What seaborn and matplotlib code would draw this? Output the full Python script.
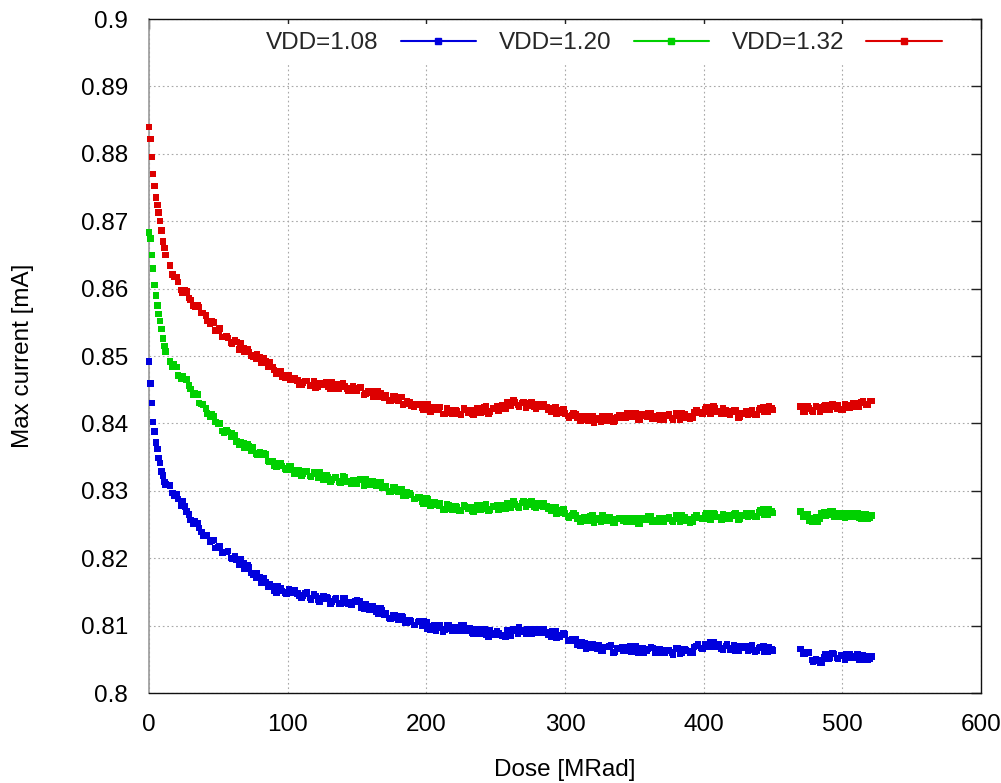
import numpy as np
import pandas as pd
import matplotlib
matplotlib.use("Agg")
import matplotlib.pyplot as plt
from matplotlib.lines import Line2D
import seaborn as sns

# ---------------- data ----------------
# two interleaved sampling grids of the dose (MRad)
dose_early = list(range(0, 13))            # 0..12
dose_main = list(range(15, 451, 3))        # 15..450
dose_late = list(range(470, 522, 3))       # 470..521
doses_a = dose_early + dose_main + dose_late
doses_b = list(range(17, 450, 3)) + list(range(472, 521, 3))

series_names = ["VDD=1.08", "VDD=1.20", "VDD=1.32"]
series_colors = ["#0000dd", "#00d000", "#dd0000"]

vdd108_a = [
    0.8492, 0.8459, 0.8430, 0.8402, 0.8388, 0.8372, 0.8362, 0.8349, 0.8341, 0.8329, 0.8323, 0.8313, 0.8309,
    0.8308, 0.8292, 0.8288, 0.8284, 0.8269, 0.8257, 0.8255, 0.8245, 0.8234, 0.8234,
    0.8226, 0.8215, 0.8218, 0.8209, 0.8211, 0.8199, 0.8198, 0.8198, 0.8185, 0.8186,
    0.8176, 0.8177, 0.8163, 0.8164, 0.8162, 0.8152, 0.8158, 0.8151, 0.8147, 0.8152,
    0.8152, 0.8144, 0.8145, 0.8149, 0.8139, 0.8144, 0.8136, 0.8143, 0.8140, 0.8136,
    0.8140, 0.8132, 0.8141, 0.8133, 0.8135, 0.8137, 0.8126, 0.8131, 0.8124, 0.8126,
    0.8118, 0.8123, 0.8118, 0.8110, 0.8116, 0.8108, 0.8113, 0.8104, 0.8106, 0.8101,
    0.8106, 0.8106, 0.8096, 0.8099, 0.8092, 0.8100, 0.8094, 0.8100, 0.8092, 0.8096,
    0.8100, 0.8092, 0.8096, 0.8088, 0.8095, 0.8091, 0.8086, 0.8093, 0.8086, 0.8089,
    0.8085, 0.8093, 0.8085, 0.8093, 0.8097, 0.8091, 0.8094, 0.8088, 0.8094, 0.8089,
    0.8094, 0.8087, 0.8091, 0.8082, 0.8086, 0.8087, 0.8077, 0.8078, 0.8072, 0.8076,
    0.8066, 0.8072, 0.8067, 0.8071, 0.8063, 0.8068, 0.8071, 0.8061, 0.8065, 0.8063,
    0.8068, 0.8061, 0.8069, 0.8063, 0.8059, 0.8065, 0.8067, 0.8060, 0.8064, 0.8059,
    0.8064, 0.8057, 0.8066, 0.8060, 0.8063, 0.8059, 0.8068, 0.8072, 0.8066, 0.8070,
    0.8075, 0.8068, 0.8072, 0.8064, 0.8073, 0.8066, 0.8063, 0.8070, 0.8067, 0.8063,
    0.8071, 0.8063, 0.8068, 0.8061, 0.8068, 0.8063,
    0.8065, 0.8058, 0.8060, 0.8047, 0.8048, 0.8045, 0.8057, 0.8052, 0.8058, 0.8051,
    0.8056, 0.8058, 0.8052, 0.8055, 0.8049, 0.8056, 0.8050, 0.8054,
]
vdd108_b = [
    0.8297, 0.8295, 0.8278, 0.8277, 0.8265, 0.8251, 0.8252, 0.8239, 0.8234, 0.8224,
    0.8227, 0.8216, 0.8208, 0.8209, 0.8200, 0.8203, 0.8190, 0.8192, 0.8189, 0.8178,
    0.8171, 0.8172, 0.8170, 0.8158, 0.8158, 0.8149, 0.8155, 0.8149, 0.8154, 0.8149,
    0.8148, 0.8142, 0.8148, 0.8141, 0.8147, 0.8138, 0.8140, 0.8142, 0.8133, 0.8139,
    0.8133, 0.8141, 0.8134, 0.8131, 0.8136, 0.8136, 0.8125, 0.8129, 0.8129, 0.8121,
    0.8125, 0.8116, 0.8111, 0.8116, 0.8111, 0.8114, 0.8104, 0.8108, 0.8101, 0.8105,
    0.8100, 0.8105, 0.8094, 0.8100, 0.8097, 0.8091, 0.8100, 0.8095, 0.8098, 0.8092,
    0.8100, 0.8093, 0.8089, 0.8094, 0.8088, 0.8094, 0.8084, 0.8089, 0.8091, 0.8086,
    0.8084, 0.8091, 0.8095, 0.8088, 0.8093, 0.8088, 0.8095, 0.8089, 0.8094, 0.8090,
    0.8090, 0.8084, 0.8091, 0.8084, 0.8088, 0.8078, 0.8079, 0.8080, 0.8070, 0.8074,
    0.8067, 0.8073, 0.8066, 0.8062, 0.8068, 0.8070, 0.8060, 0.8066, 0.8068, 0.8063,
    0.8069, 0.8062, 0.8059, 0.8067, 0.8063, 0.8068, 0.8060, 0.8065, 0.8059, 0.8063,
    0.8060, 0.8067, 0.8058, 0.8065, 0.8062, 0.8059, 0.8070, 0.8067, 0.8072, 0.8068,
    0.8076, 0.8069, 0.8066, 0.8070, 0.8064, 0.8071, 0.8062, 0.8067, 0.8069, 0.8064,
    0.8061, 0.8067, 0.8070, 0.8061, 0.8065,
    0.8058, 0.8061, 0.8049, 0.8050, 0.8045, 0.8053, 0.8051, 0.8059, 0.8052, 0.8056,
    0.8050, 0.8057, 0.8053, 0.8057, 0.8050, 0.8054, 0.8051,
]

vdd120_a = [
    0.8683, 0.8674, 0.8650, 0.8630, 0.8605, 0.8590, 0.8575, 0.8562, 0.8552, 0.8540, 0.8526, 0.8515, 0.8507,
    0.8492, 0.8488, 0.8471, 0.8470, 0.8465, 0.8451, 0.8444, 0.8430, 0.8428, 0.8415,
    0.8414, 0.8402, 0.8400, 0.8386, 0.8387, 0.8386, 0.8373, 0.8372, 0.8364, 0.8366,
    0.8364, 0.8353, 0.8354, 0.8354, 0.8343, 0.8337, 0.8341, 0.8337, 0.8331, 0.8336,
    0.8325, 0.8331, 0.8325, 0.8329, 0.8321, 0.8325, 0.8327, 0.8317, 0.8320, 0.8317,
    0.8320, 0.8312, 0.8320, 0.8313, 0.8316, 0.8310, 0.8316, 0.8317, 0.8309, 0.8311,
    0.8313, 0.8304, 0.8307, 0.8298, 0.8306, 0.8298, 0.8293, 0.8298, 0.8294, 0.8288,
    0.8291, 0.8281, 0.8288, 0.8279, 0.8279, 0.8282, 0.8272, 0.8278, 0.8272, 0.8276,
    0.8270, 0.8277, 0.8275, 0.8269, 0.8278, 0.8273, 0.8280, 0.8272, 0.8276, 0.8272,
    0.8278, 0.8282, 0.8275, 0.8280, 0.8275, 0.8284, 0.8279, 0.8284, 0.8275, 0.8278,
    0.8282, 0.8273, 0.8276, 0.8266, 0.8271, 0.8266, 0.8260, 0.8266, 0.8258, 0.8260,
    0.8256, 0.8262, 0.8253, 0.8260, 0.8263, 0.8256, 0.8258, 0.8253, 0.8260, 0.8255,
    0.8260, 0.8254, 0.8259, 0.8251, 0.8257, 0.8262, 0.8254, 0.8257, 0.8254, 0.8260,
    0.8261, 0.8254, 0.8259, 0.8263, 0.8256, 0.8253, 0.8261, 0.8260, 0.8258, 0.8266,
    0.8257, 0.8265, 0.8261, 0.8265, 0.8258, 0.8263, 0.8266, 0.8258, 0.8263, 0.8262,
    0.8267, 0.8261, 0.8271, 0.8265, 0.8273, 0.8267,
    0.8269, 0.8261, 0.8255, 0.8260, 0.8254, 0.8267, 0.8263, 0.8269, 0.8262, 0.8267,
    0.8261, 0.8267, 0.8262, 0.8267, 0.8260, 0.8265, 0.8259, 0.8263,
]
vdd120_b = [
    0.8484, 0.8484, 0.8467, 0.8466, 0.8456, 0.8443, 0.8443, 0.8429, 0.8422, 0.8410,
    0.8411, 0.8399, 0.8389, 0.8390, 0.8380, 0.8382, 0.8369, 0.8371, 0.8369, 0.8360,
    0.8355, 0.8357, 0.8356, 0.8344, 0.8344, 0.8335, 0.8341, 0.8333, 0.8337, 0.8331,
    0.8330, 0.8323, 0.8329, 0.8322, 0.8328, 0.8319, 0.8321, 0.8323, 0.8314, 0.8320,
    0.8314, 0.8321, 0.8314, 0.8311, 0.8316, 0.8317, 0.8307, 0.8313, 0.8314, 0.8308,
    0.8312, 0.8304, 0.8299, 0.8305, 0.8300, 0.8303, 0.8293, 0.8296, 0.8288, 0.8290,
    0.8284, 0.8289, 0.8278, 0.8283, 0.8278, 0.8272, 0.8280, 0.8274, 0.8277, 0.8271,
    0.8279, 0.8273, 0.8270, 0.8276, 0.8272, 0.8279, 0.8270, 0.8277, 0.8279, 0.8274,
    0.8273, 0.8280, 0.8284, 0.8277, 0.8282, 0.8276, 0.8283, 0.8277, 0.8282, 0.8277,
    0.8277, 0.8271, 0.8276, 0.8267, 0.8272, 0.8262, 0.8263, 0.8264, 0.8254, 0.8261,
    0.8255, 0.8263, 0.8257, 0.8254, 0.8260, 0.8261, 0.8252, 0.8258, 0.8259, 0.8254,
    0.8260, 0.8254, 0.8251, 0.8259, 0.8257, 0.8262, 0.8254, 0.8260, 0.8254, 0.8259,
    0.8256, 0.8263, 0.8254, 0.8261, 0.8258, 0.8254, 0.8264, 0.8260, 0.8264, 0.8259,
    0.8267, 0.8261, 0.8257, 0.8263, 0.8258, 0.8265, 0.8257, 0.8264, 0.8267, 0.8263,
    0.8262, 0.8268, 0.8272, 0.8265, 0.8269,
    0.8261, 0.8265, 0.8254, 0.8261, 0.8259, 0.8268, 0.8264, 0.8269, 0.8261, 0.8266,
    0.8260, 0.8267, 0.8262, 0.8267, 0.8259, 0.8265, 0.8260,
]

vdd132_a = [
    0.8840, 0.8822, 0.8795, 0.8770, 0.8752, 0.8735, 0.8724, 0.8713, 0.8700, 0.8686, 0.8670, 0.8660, 0.8650,
    0.8634, 0.8617, 0.8610, 0.8594, 0.8596, 0.8583, 0.8573, 0.8573, 0.8564, 0.8552,
    0.8551, 0.8538, 0.8541, 0.8528, 0.8527, 0.8518, 0.8521, 0.8519, 0.8507, 0.8506,
    0.8499, 0.8503, 0.8490, 0.8492, 0.8491, 0.8479, 0.8478, 0.8469, 0.8472, 0.8465,
    0.8467, 0.8458, 0.8461, 0.8463, 0.8456, 0.8453, 0.8460, 0.8458, 0.8455, 0.8461,
    0.8452, 0.8458, 0.8455, 0.8448, 0.8455, 0.8448, 0.8453, 0.8444, 0.8445, 0.8439,
    0.8447, 0.8439, 0.8442, 0.8434, 0.8440, 0.8434, 0.8428, 0.8433, 0.8426, 0.8428,
    0.8429, 0.8421, 0.8428, 0.8420, 0.8421, 0.8424, 0.8414, 0.8420, 0.8414, 0.8418,
    0.8413, 0.8420, 0.8419, 0.8413, 0.8423, 0.8417, 0.8425, 0.8418, 0.8422, 0.8419,
    0.8427, 0.8432, 0.8426, 0.8431, 0.8425, 0.8432, 0.8426, 0.8431, 0.8422, 0.8425,
    0.8429, 0.8420, 0.8423, 0.8414, 0.8420, 0.8415, 0.8409, 0.8415, 0.8408, 0.8410,
    0.8405, 0.8411, 0.8401, 0.8408, 0.8411, 0.8404, 0.8408, 0.8404, 0.8412, 0.8409,
    0.8415, 0.8410, 0.8415, 0.8406, 0.8412, 0.8415, 0.8407, 0.8410, 0.8406, 0.8412,
    0.8413, 0.8406, 0.8411, 0.8415, 0.8409, 0.8407, 0.8416, 0.8416, 0.8415, 0.8424,
    0.8415, 0.8423, 0.8418, 0.8422, 0.8414, 0.8418, 0.8420, 0.8410, 0.8414, 0.8413,
    0.8419, 0.8413, 0.8423, 0.8418, 0.8425, 0.8420,
    0.8425, 0.8418, 0.8422, 0.8418, 0.8424, 0.8421, 0.8427, 0.8421, 0.8425, 0.8427,
    0.8421, 0.8427, 0.8424, 0.8430, 0.8425, 0.8433, 0.8428, 0.8433,
]
vdd132_b = [
    0.8621, 0.8617, 0.8598, 0.8597, 0.8586, 0.8574, 0.8576, 0.8564, 0.8560, 0.8548,
    0.8550, 0.8538, 0.8528, 0.8529, 0.8520, 0.8523, 0.8510, 0.8512, 0.8510, 0.8501,
    0.8496, 0.8498, 0.8497, 0.8484, 0.8484, 0.8473, 0.8477, 0.8468, 0.8471, 0.8465,
    0.8464, 0.8457, 0.8463, 0.8456, 0.8463, 0.8455, 0.8458, 0.8461, 0.8452, 0.8458,
    0.8452, 0.8459, 0.8452, 0.8448, 0.8452, 0.8453, 0.8442, 0.8447, 0.8447, 0.8440,
    0.8445, 0.8438, 0.8433, 0.8440, 0.8435, 0.8439, 0.8429, 0.8432, 0.8424, 0.8427,
    0.8423, 0.8429, 0.8418, 0.8424, 0.8420, 0.8414, 0.8422, 0.8416, 0.8419, 0.8414,
    0.8422, 0.8416, 0.8414, 0.8420, 0.8416, 0.8424, 0.8415, 0.8422, 0.8425, 0.8422,
    0.8422, 0.8430, 0.8435, 0.8427, 0.8430, 0.8423, 0.8430, 0.8424, 0.8429, 0.8424,
    0.8424, 0.8418, 0.8424, 0.8416, 0.8421, 0.8411, 0.8412, 0.8413, 0.8404, 0.8410,
    0.8404, 0.8411, 0.8405, 0.8402, 0.8408, 0.8410, 0.8402, 0.8409, 0.8412, 0.8408,
    0.8415, 0.8410, 0.8406, 0.8414, 0.8410, 0.8415, 0.8407, 0.8412, 0.8406, 0.8411,
    0.8408, 0.8415, 0.8406, 0.8413, 0.8411, 0.8408, 0.8419, 0.8416, 0.8421, 0.8417,
    0.8425, 0.8418, 0.8414, 0.8419, 0.8413, 0.8419, 0.8409, 0.8415, 0.8418, 0.8414,
    0.8413, 0.8420, 0.8424, 0.8417, 0.8422,
    0.8418, 0.8425, 0.8419, 0.8425, 0.8418, 0.8425, 0.8420, 0.8428, 0.8422, 0.8420,
    0.8428, 0.8423, 0.8430, 0.8424, 0.8431, 0.8427, 0.8433,
]

x_ticks = [0, 100, 200, 300, 400, 500, 600]
y_ticks = [0.80, 0.81, 0.82, 0.83, 0.84, 0.85, 0.86, 0.87, 0.88, 0.89, 0.90]
y_tick_labels = ["0.8", "0.81", "0.82", "0.83", "0.84", "0.85", "0.86", "0.87", "0.88", "0.89", "0.9"]
x_label = "Dose [MRad]"
y_label = "Max current [mA]"

# ---------------- frame ----------------
series_a = [vdd108_a, vdd120_a, vdd132_a]
series_b = [vdd108_b, vdd120_b, vdd132_b]
rows = []
for name, va, vb in zip(series_names, series_a, series_b):
    assert len(va) == len(doses_a), (name, len(va), len(doses_a))
    assert len(vb) == len(doses_b), (name, len(vb), len(doses_b))
    for d, v in zip(doses_a, va):
        rows.append((d, v, name))
    for d, v in zip(doses_b, vb):
        rows.append((d, v, name))
df = pd.DataFrame(rows, columns=["dose", "current", "series"])

sns.set_theme(style="white")
plt.rcParams["font.family"] = ["Liberation Sans", "DejaVu Sans"]
FS = 17.5

fig = plt.figure(figsize=(10.01, 7.83), dpi=100)
ax = fig.add_axes([0.14885, 0.11494, 0.83117, 0.86079])

palette = dict(zip(series_names, series_colors))
sns.scatterplot(data=df, x="dose", y="current", hue="series", palette=palette,
                marker="s", s=22, linewidth=0, legend=False, ax=ax,
                clip_on=False, zorder=3)

ax.set_xlim(0, 600)
ax.set_ylim(0.8, 0.9)
ax.set_xticks(x_ticks)
ax.set_xticklabels([str(t) for t in x_ticks])
ax.set_yticks(y_ticks)
ax.set_yticklabels(y_tick_labels)

ax.grid(True, color="#a8a8a8", linestyle=(0, (1.5, 2.5)), linewidth=0.8, zorder=0)
ax.set_axisbelow(True)

ax.tick_params(axis="both", which="major", direction="in", length=7, width=1,
               color="#222222", labelsize=FS, labelcolor="black", pad=15,
               top=True, right=True)

for side in ["top", "right", "bottom"]:
    ax.spines[side].set_color("#111111")
    ax.spines[side].set_linewidth(1.0)
ax.spines["left"].set_color("#999999")
ax.spines["left"].set_linewidth(1.2)

ax.set_xlabel(x_label, fontsize=FS, labelpad=17, color="black")
ax.set_ylabel(y_label, fontsize=FS, labelpad=34, color="black")

handles = [Line2D([0], [0], color=c, lw=1.5, marker="s", markersize=4) for c in series_colors]
leg = ax.legend(handles, series_names, ncol=3, markerfirst=False, frameon=True,
                loc="center right", bbox_to_anchor=(0.963, 0.964),
                fontsize=FS, handlelength=3.1, handletextpad=0.9, columnspacing=0.95,
                borderpad=0.35, borderaxespad=0, framealpha=1, fancybox=False)
leg.get_frame().set_facecolor("white")
leg.get_frame().set_linewidth(0)

fig.savefig("out.png", dpi=100)
